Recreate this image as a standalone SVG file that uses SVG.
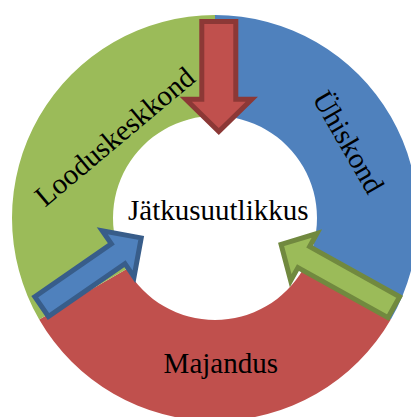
<svg xmlns="http://www.w3.org/2000/svg" width="411" height="417" viewBox="0 0 411 417">
<style>
.lbl{font-family:"Liberation Serif","Times New Roman",serif;font-size:29px;fill:#000;text-anchor:middle}
.g{fill:#9BBB59}.b{fill:#4F81BD}.r{fill:#C0504D}
.ag{fill:#9BBB59;stroke:#71893F;stroke-width:5}
.ab{fill:#4F81BD;stroke:#385D8A;stroke-width:5}
.ar{fill:#C0504D;stroke:#8C3836;stroke-width:5}
</style>
<rect width="411" height="417" fill="#fff"/>
<g id="node-uhiskond">
<path class="b" d="M215,15 A203,203 0 0 1 390.8,319.5 L303.33,269 A102,102 0 0 0 215,116 Z"/>
</g>
<g id="node-majandus">
<path class="r" d="M390.8,319.5 A203,203 0 0 1 39.2,319.5 L126.67,269 A102,102 0 0 0 303.33,269 Z"/>
</g>
<g id="node-looduskeskkond">
<path class="g" d="M39.2,319.5 A203,203 0 0 1 215,15 L215,116 A102,102 0 0 0 126.67,269 Z"/>
</g>
<g id="connectors">
<polygon class="ar" transform="translate(218.8,21.5) rotate(90)" points="0,-17 77.7,-17 77.7,-33 110,0 77.7,33 77.7,17 0,17"/>
<polygon class="ab" transform="translate(41.6,306.6) rotate(-34.6)" points="0,-12 93,-12 93,-28 121,0 93,28 93,12 0,12"/>
<polygon class="ag" transform="translate(393.8,307.2) rotate(209.1)" points="0,-12 103,-12 103,-27 129,0 103,27 103,12 0,12"/>
</g>
<g id="labels">
<text class="lbl" transform="translate(121,144) rotate(-40)">Looduskeskkond</text>
<text class="lbl" transform="translate(340,147) rotate(60)">Ühiskond</text>
<text class="lbl" x="220.8" y="373">Majandus</text>
</g>
<g id="node-center">
<text class="lbl" x="218.3" y="220">Jätkusuutlikkus</text>
</g>
</svg>
